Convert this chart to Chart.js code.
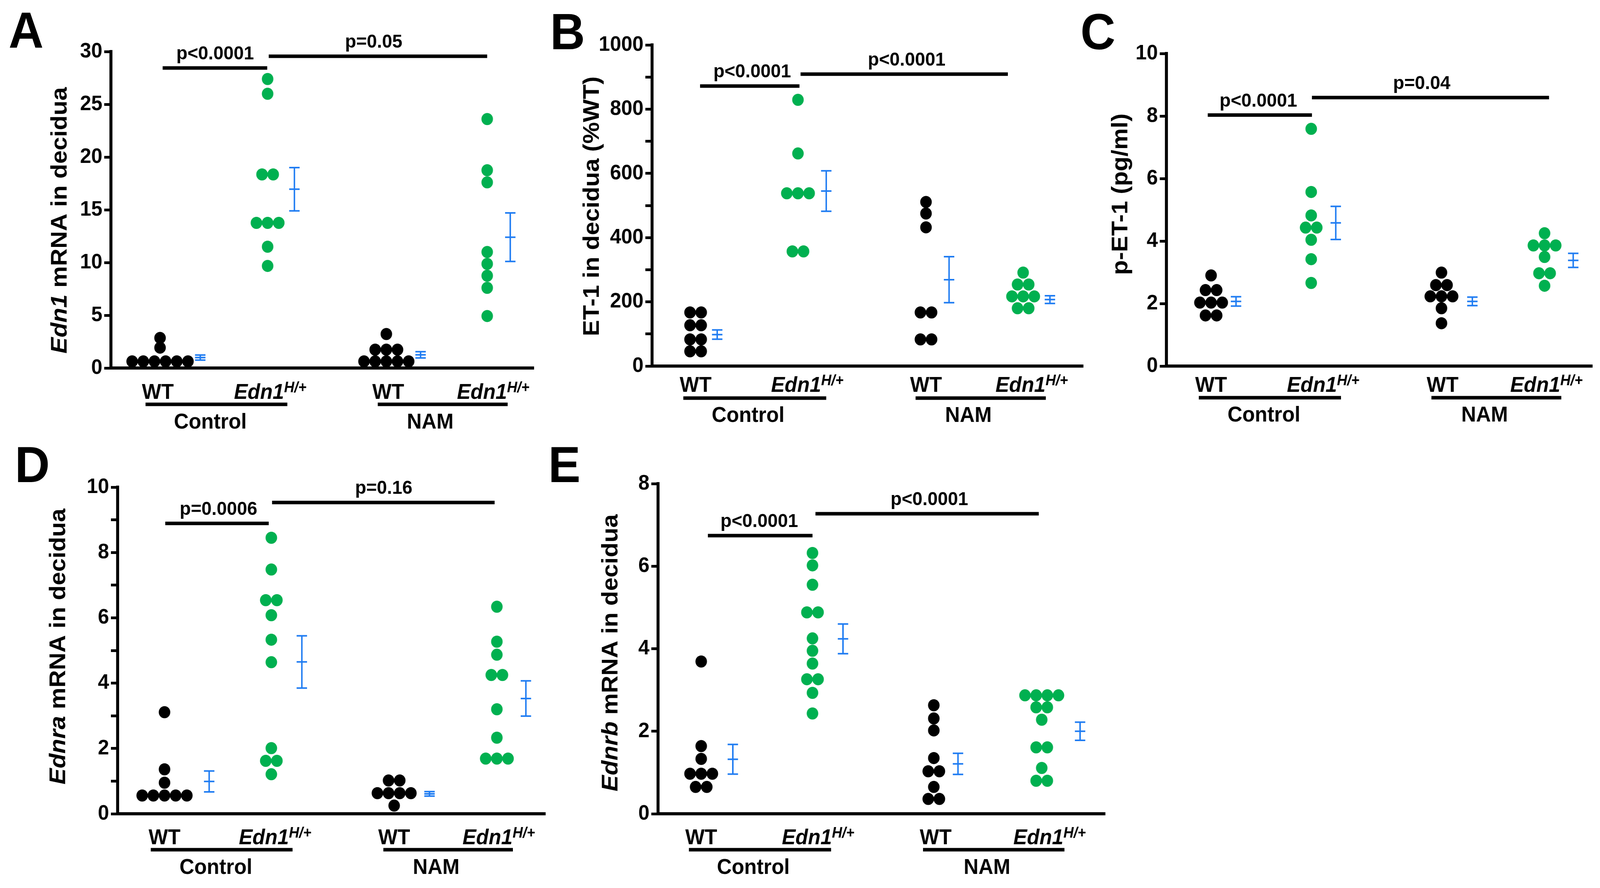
<!DOCTYPE html>
<html>
<head>
<meta charset="utf-8">
<script src="https://cdn.jsdelivr.net/npm/chart.js@4.4.1/dist/chart.umd.min.js"></script>
<style>
  html, body { margin: 0; padding: 0; background: #fff; overflow: hidden; }
  #fig { position: absolute; left: 0; top: 0; width: 4299px; height: 2273px; transform-origin: 0 0; background: #fff; }
  canvas { position: absolute; }
  .tag { position: absolute; font: bold 130px "Liberation Sans", Arial, sans-serif; line-height: 1; color: #000; }
</style>
</head>
<body>
<div id="fig"></div>
<script>
// ============================================
// Edn1 / NAM figure - five dot plots (A-E)
// ============================================

// --- shared labels ---
const genotypes = ["WT", "Edn1", "WT", "Edn1"];
const treatments = ["Control", "NAM"];

// --- A: Edn1 mRNA in decidua ---
const aWtCtrl = [0.63, 0.63, 0.63, 0.63, 0.63, 0.63, 1.93, 2.85];
const aMutCtrl = [27.4, 26.0, 18.35, 18.35, 13.76, 13.76, 13.76, 11.5, 9.68];
const aWtNam = [0.63, 0.63, 0.63, 0.63, 0.63, 1.74, 1.74, 1.74, 3.22];
const aMutNam = [23.6, 18.75, 17.6, 11.0, 9.87, 8.75, 7.6, 4.93];
const aMeans = [0.99, 16.95, 1.25, 12.4];
const aSems = [0.24, 2.05, 0.3, 2.3];
const aTicks = [0, 5, 10, 15, 20, 25, 30];
const aPvals = ["p<0.0001", "p=0.05"];
const aPbarY = [28.44, 29.56];

// --- B: ET-1 in decidua (%WT) ---
const bWtCtrl = [167, 167, 127, 127, 83, 83, 46, 46];
const bMutCtrl = [829, 662, 538, 538, 538, 357, 357];
const bWtNam = [511, 475, 432, 167, 167, 83, 83];
const bMutNam = [291, 254, 254, 217, 217, 217, 180, 180];
const bMeans = [98, 545, 269, 207];
const bSems = [14.5, 63, 71.5, 12];
const bTicks = [0, 200, 400, 600, 800, 1000];
const bPvals = ["p<0.0001", "p<0.0001"];
const bPbarY = [872, 909];

// --- C: p-ET-1 (pg/ml) ---
const cWtCtrl = [2.90, 2.43, 2.43, 2.03, 2.03, 2.03, 1.62, 1.62];
const cMutCtrl = [7.59, 5.57, 4.82, 4.43, 4.43, 4.04, 3.42, 2.66];
const cWtNam = [2.99, 2.59, 2.59, 2.23, 2.23, 2.23, 1.85, 1.37];
const cMutNam = [4.25, 3.86, 3.86, 3.86, 3.49, 2.97, 2.97, 2.57];
const cMeans = [2.07, 4.58, 2.07, 3.38];
const cSems = [0.15, 0.53, 0.135, 0.225];
const cTicks = [0, 2, 4, 6, 8, 10];
const cPvals = ["p<0.0001", "p=0.04"];
const cPbarY = [8.03, 8.59];

// --- D: Ednra mRNA in decidua ---
const dWtCtrl = [3.11, 1.36, 0.95, 0.56, 0.56, 0.56, 0.56, 0.56];
const dMutCtrl = [8.45, 7.48, 6.54, 6.54, 6.08, 5.33, 4.64, 2.01, 1.62, 1.62, 1.21];
const dWtNam = [1.02, 1.02, 0.63, 0.63, 0.63, 0.63, 0.25];
const dMutNam = [6.34, 5.27, 4.87, 4.25, 4.25, 3.20, 2.33, 1.69, 1.69, 1.69];
const dMeans = [0.99, 4.65, 0.61, 3.53];
const dSems = [0.32, 0.8, 0.07, 0.54];
const dTicks = [0, 2, 4, 6, 8, 10];
const dPvals = ["p=0.0006", "p=0.16"];
const dPbarY = [8.89, 9.53];

// --- E: Ednrb mRNA in decidua ---
const eWtCtrl = [3.69, 1.64, 1.33, 0.97, 0.97, 0.97, 0.65, 0.65];
const eMutCtrl = [6.32, 6.02, 5.55, 4.88, 4.88, 4.25, 3.95, 3.64, 3.26, 3.26, 2.93, 2.43];
const eWtNam = [2.63, 2.31, 2.02, 1.35, 1.03, 1.03, 0.65, 0.36, 0.36];
const eMutNam = [2.87, 2.87, 2.87, 2.87, 2.58, 2.58, 2.28, 1.61, 1.61, 1.11, 0.80, 0.80];
const eMeans = [1.32, 4.24, 1.21, 2.0];
const eSems = [0.36, 0.36, 0.255, 0.22];
const eTicks = [0, 2, 4, 6, 8];
const ePvals = ["p<0.0001", "p<0.0001"];
const ePbarY = [6.74, 7.27];

// --- look ---
const FONT = '"Liberation Sans", Arial, sans-serif';
const BLACK = "#000000";
const GREEN = "#00b050";
const BLUE = "#1f7cf2";
const DOT_R = 15.5;
const DOT_GAP = 30;
const AXIS_W = 8;
const FIG_W = 4299;
const FIG_H = 2273;

// --- page layout (figure pixels; x scale runs in figure pixels) ---
const panels = [
  { letter: "A", tag: [23, 122], box: [0, 0, 1454, 1122], X: [298, 1434], Y: [132, 942],
    ymax: 30, step: 5, ticks: aTicks, groups: [aWtCtrl, aMutCtrl, aWtNam, aMutNam], means: aMeans, sems: aSems,
    cols: [430, 719, 1038, 1309], errX: [538, 791, 1130, 1371],
    title: [["Edn1", true], [" mRNA in decidua", false]], titleAt: [157, 564],
    labelX: [424, 726, 1043, 1325], underX: [[391, 772], [1015, 1364]], groupX: [565, 1156], labelDy: [59, 93, 135],
    sigX: [[437, 718], [722, 1309]], sigY: aPbarY, sigText: aPvals, sigTextX: [578, 1004] },
  { letter: "B", tag: [1478, 126], box: [1440, 0, 1490, 1117], X: [1752, 2910], Y: [115, 937],
    ymax: 1000, step: 100, ticks: bTicks, groups: [bWtCtrl, bMutCtrl, bWtNam, bMutNam], means: bMeans, sems: bSems,
    cols: [1869, 2144, 2488, 2749], errX: [1927, 2220, 2550, 2821],
    title: [["ET-1 in decidua (%WT)", false]], titleAt: [1587, 528],
    labelX: [1869, 2169, 2488, 2772], underX: [[1836, 2220], [2460, 2810]], groupX: [2010, 2602], labelDy: [46, 82, 123],
    sigX: [[1881, 2148], [2151, 2708]], sigY: bPbarY, sigText: bPvals, sigTextX: [2021, 2436] },
  { letter: "C", tag: [2903, 126], box: [2930, 0, 1369, 1117], X: [3134, 4278], Y: [137, 937],
    ymax: 10, step: 2, ticks: cTicks, groups: [cWtCtrl, cMutCtrl, cWtNam, cMutNam], means: cMeans, sems: cSems,
    cols: [3254, 3523, 3873, 4150], errX: [3321, 3589, 3956, 4227],
    title: [["p-ET-1 (pg/ml)", false]], titleAt: [3007, 497],
    labelX: [3254, 3555, 3876, 4155], underX: [[3221, 3603], [3846, 4195]], groupX: [3396, 3989], labelDy: [46, 81, 122],
    sigX: [[3245, 3525], [3525, 4162]], sigY: cPbarY, sigText: cPvals, sigTextX: [3381, 3820] },
  { letter: "D", tag: [40, 1234], box: [0, 1120, 1485, 1153], X: [316, 1465], Y: [1247, 2083],
    ymax: 10, step: 1, ticks: dTicks, groups: [dWtCtrl, dMutCtrl, dWtNam, dMutNam], means: dMeans, sems: dSems,
    cols: [442, 729, 1059, 1335], errX: [562, 811, 1154, 1413],
    title: [["Ednra", true], [" mRNA in decidua", false]], titleAt: [153, 1655],
    labelX: [442, 739, 1059, 1340], underX: [[405, 786], [1030, 1378]], groupX: [580, 1172], labelDy: [58, 92, 134],
    sigX: [[444, 722], [731, 1329]], sigY: dPbarY, sigText: dPvals, sigTextX: [587, 1031] },
  { letter: "E", tag: [1473, 1234], box: [1480, 1120, 1509, 1153], X: [1768, 2969], Y: [1238, 2083],
    ymax: 8, step: 2, ticks: eTicks, groups: [eWtCtrl, eMutCtrl, eWtNam, eMutNam], means: eMeans, sems: eSems,
    cols: [1884, 2183, 2509, 2799], errX: [1969, 2265, 2574, 2902],
    title: [["Ednrb", true], [" mRNA in decidua", false]], titleAt: [1637, 1671],
    labelX: [1884, 2198, 2514, 2820], underX: [[1851, 2233], [2480, 2860]], groupX: [2024, 2652], labelDy: [58, 92, 134],
    sigX: [[1902, 2183], [2191, 2791]], sigY: ePbarY, sigText: ePvals, sigTextX: [2040, 2497] },
];

// --- the window may be narrower than the figure: fit the whole figure into it ---
const fig = document.getElementById("fig");
fig.style.transform = "scale(" + window.innerWidth / FIG_W + "," + window.innerHeight / FIG_H + ")";

// --- dots with equal values sit side by side in a row ---
function swarm(values, cx, gap) {
  const counts = {};
  values.forEach((v) => (counts[v] = (counts[v] || 0) + 1));
  const seen = {};
  return values.map((v) => {
    seen[v] = seen[v] === undefined ? 0 : seen[v] + 1;
    return { x: cx + (seen[v] - (counts[v] - 1) / 2) * gap, y: v };
  });
}

// --- mixed-style text, centred on cx, alphabetic baseline at by ---
function drawRich(ctx, parts, cx, by) {
  let w = 0;
  parts.forEach((p) => { ctx.font = p.font; w += ctx.measureText(p.text).width; });
  let xx = cx - w / 2;
  ctx.textAlign = "left";
  ctx.textBaseline = "alphabetic";
  parts.forEach((p) => {
    ctx.font = p.font;
    ctx.fillText(p.text, xx, by + (p.dy || 0));
    xx += ctx.measureText(p.text).width;
  });
}

function decor(p) {
  return {
    id: "decor" + p.letter,
    afterDraw(chart) {
      const { ctx, chartArea, scales: { x, y } } = chart;
      const top = p.box[1];
      ctx.save();
      ctx.fillStyle = BLACK;

      // --- mean +/- SEM bars ---
      ctx.strokeStyle = BLUE;
      ctx.lineWidth = 4;
      p.errX.forEach((ex, i) => {
        const px = x.getPixelForValue(ex);
        const m = p.means[i], s = p.sems[i];
        const ys = [y.getPixelForValue(m + s), y.getPixelForValue(m), y.getPixelForValue(m - s)];
        ctx.beginPath();
        ctx.moveTo(px, ys[0]);
        ctx.lineTo(px, ys[2]);
        ys.forEach((yy) => { ctx.moveTo(px - 14, yy); ctx.lineTo(px + 14, yy); });
        ctx.stroke();
      });

      // --- significance bars ---
      ctx.strokeStyle = BLACK;
      ctx.lineWidth = 9;
      p.sigX.forEach((sx, i) => {
        const yy = y.getPixelForValue(p.sigY[i]);
        ctx.beginPath();
        ctx.moveTo(x.getPixelForValue(sx[0]), yy);
        ctx.lineTo(x.getPixelForValue(sx[1]), yy);
        ctx.stroke();
        drawRich(ctx, [{ text: p.sigText[i], font: "bold 49px " + FONT }], x.getPixelForValue(p.sigTextX[i]), yy - 22);
      });

      // --- genotype labels, underlines, treatment labels ---
      const base = chartArea.bottom;
      p.labelX.forEach((lx, i) => {
        const cx = x.getPixelForValue(lx);
        const by = base + p.labelDy[0] + 20;
        if (genotypes[i] === "WT") {
          drawRich(ctx, [{ text: "WT", font: "bold 55px " + FONT }], cx, by);
        } else {
          drawRich(ctx, [
            { text: genotypes[i], font: "italic bold 55px " + FONT },
            { text: "H/+", font: "italic bold 38px " + FONT, dy: -17 },
          ], cx, by);
        }
      });
      ctx.lineWidth = 9;
      p.underX.forEach((ux) => {
        const yy = base + p.labelDy[1];
        ctx.beginPath();
        ctx.moveTo(x.getPixelForValue(ux[0]), yy);
        ctx.lineTo(x.getPixelForValue(ux[1]), yy);
        ctx.stroke();
      });
      p.groupX.forEach((gx, i) => {
        drawRich(ctx, [{ text: treatments[i], font: "bold 55px " + FONT }], x.getPixelForValue(gx), base + p.labelDy[2] + 20);
      });

      // --- y axis title (rotated) ---
      ctx.translate(p.titleAt[0] - p.box[0], p.titleAt[1] - top);
      ctx.rotate(-Math.PI / 2);
      drawRich(ctx, p.title.map(([t, it]) => ({ text: t, font: (it ? "italic " : "") + "bold 62px " + FONT })), 0, 22);
      ctx.restore();
    },
  };
}

panels.forEach((p) => {
  const [cl, ct, cw, ch] = p.box;

  // panel letter
  const tag = document.createElement("div");
  tag.className = "tag";
  tag.textContent = p.letter;
  tag.style.left = p.tag[0] + "px";
  tag.style.top = p.tag[1] - 110 + "px";
  fig.appendChild(tag);

  const canvas = document.createElement("canvas");
  canvas.width = cw;
  canvas.height = ch;
  canvas.style.left = cl + "px";
  canvas.style.top = ct + "px";
  canvas.style.width = cw + "px";
  canvas.style.height = ch + "px";
  fig.appendChild(canvas);

  new Chart(canvas, {
    type: "scatter",
    data: {
      datasets: p.groups.map((vals, i) => ({
        data: swarm(vals, p.cols[i], DOT_GAP),
        backgroundColor: i % 2 ? GREEN : BLACK,
        borderWidth: 0,
        pointRadius: DOT_R,
        pointHoverRadius: DOT_R,
        clip: false,
      })),
    },
    options: {
      responsive: false,
      animation: false,
      devicePixelRatio: 1,
      events: [],
      layout: {
        padding: { left: 0, top: p.Y[0] - ct, right: cl + cw - p.X[1], bottom: ct + ch - p.Y[1] },
      },
      plugins: { legend: { display: false }, tooltip: { enabled: false } },
      scales: {
        x: {
          type: "linear",
          min: p.X[0],
          max: p.X[1],
          ticks: { display: false },
          grid: { display: false },
          border: { display: true, color: BLACK, width: AXIS_W },
          afterFit: (s) => { s.height = 0; },
        },
        y: {
          min: 0,
          max: p.ymax,
          ticks: {
            stepSize: p.step,
            autoSkip: false,
            color: BLACK,
            padding: 5,
            font: { size: 54, weight: "bold", family: FONT },
            callback: (v) => (p.ticks.includes(v) ? String(v) : ""),
          },
          grid: { drawOnChartArea: false, drawTicks: true, tickLength: 18, lineWidth: 7, color: BLACK },
          border: { display: true, color: BLACK, width: AXIS_W },
          afterFit: (s) => { s.width = p.X[0] - cl; },
        },
      },
    },
    plugins: [decor(p)],
  });
});
</script>
</body>
</html>
